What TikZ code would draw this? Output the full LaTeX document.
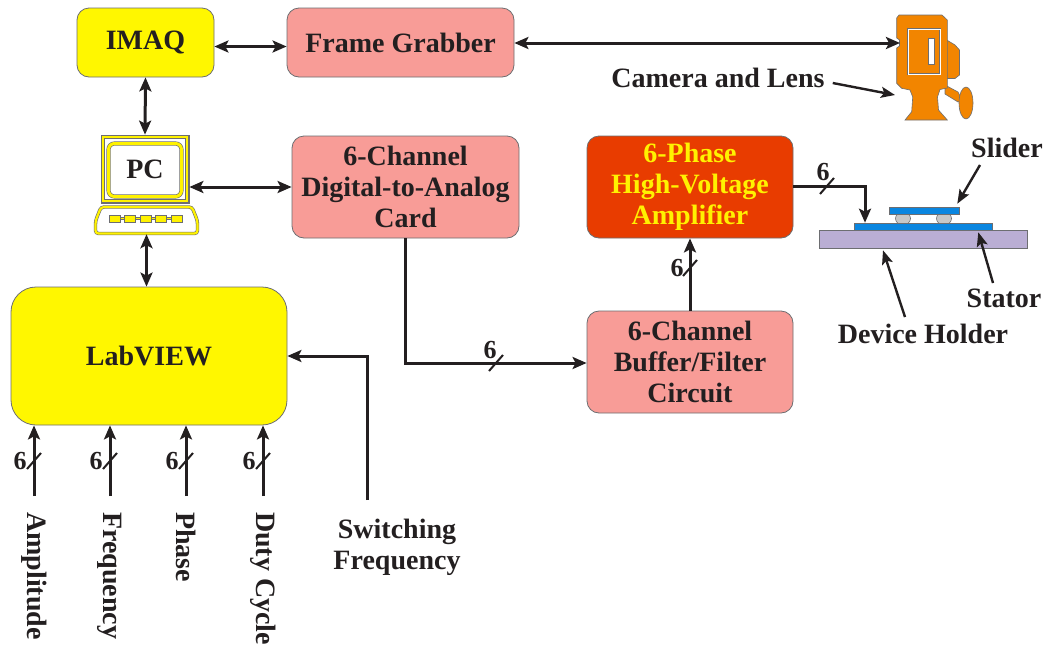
\documentclass[tikz,border=0pt]{standalone}
\usepackage{fontspec}
\setmainfont{Liberation Serif}
\usetikzlibrary{arrows.meta}

\definecolor{ink}{HTML}{231F20}
\definecolor{boxyellow}{HTML}{FFF700}
\definecolor{boxpink}{HTML}{F89C97}
\definecolor{ampred}{HTML}{E83C00}
\definecolor{amptext}{HTML}{FFF200}
\definecolor{camorange}{HTML}{F28500}
\definecolor{edge}{HTML}{6D6E71}
\definecolor{holder}{HTML}{BAAED4}
\definecolor{statorblue}{HTML}{0A86E0}
\definecolor{ballgray}{HTML}{C8C8C8}
\definecolor{pcyellow}{HTML}{FFF200}

\tikzset{busslash/.pic={\draw[draw=ink, line width=2pt] (-7,8) -- (7,-8);}}

\begin{document}
\begin{tikzpicture}[x=1pt,y=-1pt,
  lbl/.style={font=\fontsize{28}{31}\selectfont\bfseries, text=ink, align=center, inner sep=0pt},
  blk/.style={lbl, draw=edge, line width=0.8pt, rounded corners=12pt},
  yblk/.style={blk, fill=boxyellow},
  pblk/.style={blk, fill=boxpink},
  wire/.style={draw=ink, line width=3pt},
  arr/.style={wire, -{Stealth[length=14pt,width=12pt,inset=3pt]}},
  darr/.style={wire, {Stealth[length=14pt,width=12pt,inset=3pt]}-{Stealth[length=14pt,width=12pt,inset=3pt]}},
  larr/.style={draw=ink, line width=2.4pt, -{Stealth[length=14pt,width=11pt,inset=3pt]}},
  busnum/.style={font=\fontsize{26}{28}\selectfont\bfseries, text=ink, inner sep=0pt},
  vlbl/.style={lbl, rotate=-90, anchor=west},
  outline/.style={draw=edge, line width=0.6pt},
]
% canvas
\fill[white] (0,0) rectangle (1047,646);
\path[use as bounding box] (0,0) rectangle (1047,646);

% ---------- main blocks ----------
\node[yblk, minimum width=137pt, minimum height=69pt] (imaq) at (145.5,42.5) {IMAQ};
\node[pblk, minimum width=227pt, minimum height=69pt] (fg) at (400.5,42.5) {Frame Grabber};
\node[pblk, minimum width=227pt, minimum height=102pt] (dac) at (405.5,187) {6-Channel\\Digital-to-Analog\\Card};
\node[blk, fill=ampred, text=amptext, minimum width=206pt, minimum height=102pt] (hva) at (690,187) {6-Phase\\High-Voltage\\Amplifier};
\node[pblk, minimum width=206pt, minimum height=102pt] (buf) at (690,362) {6-Channel\\Buffer/Filter\\Circuit};
\node[yblk, rounded corners=25pt, minimum width=276pt, minimum height=138pt] (lab) at (149,356) {LabVIEW};

% ---------- PC icon ----------
\node[draw=edge, fill=white, line width=0.7pt, minimum width=88pt, minimum height=68pt,
      inner sep=0pt, lbl] (pc) at (145,169) {PC};
\draw[outline, double=pcyellow, double distance=2.2pt] (103,137) rectangle (187,201);
\draw[outline, double=pcyellow, double distance=3pt, rounded corners=6pt] (108.5,143.5) rectangle (181.5,196.5);
\node[minimum width=103pt, minimum height=27pt, inner sep=0pt] (kb) at (146.5,220.5) {};
\filldraw[outline, fill=white, double=pcyellow, double distance=2.2pt, rounded corners=3pt]
  (101,207) -- (192,207) -- (197.5,221) -- (197.5,233.5) -- (95.5,233.5) -- (95.5,221) -- cycle;
\draw[draw=edge, double=pcyellow, double distance=1.4pt, line width=0.5pt] (110,218.5) -- (182,218.5);
\foreach \kx in {114.5,130,145.5,161,176.5}
  \filldraw[draw=edge, fill=pcyellow, line width=0.6pt] (\kx-5.5,215) rectangle (\kx+5.5,222);

% ---------- camera ----------
\begin{scope}[outline]
  \filldraw[fill=camorange] (945,39) -- (955,45) -- (959.5,50) -- (959.5,75) -- (955,78.5) -- (945,78.5) -- cycle;
  \filldraw[fill=camorange] (945,85) -- (958,92) -- (962,100) -- (958,102) -- (945,94) -- cycle;
  \filldraw[fill=camorange] (966,103) ellipse [x radius=7, y radius=16];
  \filldraw[fill=camorange] (899,15) -- (942,15) -- (947.3,20) -- (947.3,88) -- (940,89.5)
    -- (937.5,97) -- (938.5,110) -- (947.3,120) -- (905,120) -- (911.7,111.7) -- (912.7,97)
    -- (910,90) -- (901.7,88.3) -- (896.7,83.3) -- (896.7,48) -- (899.5,46) -- (899.5,40)
    -- (896.7,38) -- (896.7,18) -- cycle;
  \draw[double=white, double distance=1pt] (908,29) rectangle (940,74);
  \filldraw[fill=white] (928,38) rectangle (934,64);
\end{scope}
\coordinate (camin) at (900,43);
\coordinate (camlens) at (895,95);
\node[lbl] (camlbl) at (718,78) {Camera and Lens};

% ---------- slider assembly ----------
\filldraw[outline, fill=ballgray] (903,218.5) ellipse [x radius=7.5, y radius=6.5];
\filldraw[outline, fill=ballgray] (944,218.5) ellipse [x radius=7.5, y radius=6.5];
\node[draw=edge, fill=holder, line width=0.6pt, minimum width=208pt, minimum height=18pt, inner sep=0pt] (holder) at (923,239) {};
\node[draw=edge, fill=statorblue, line width=0.6pt, minimum width=138pt, minimum height=7pt, inner sep=0pt] (stator) at (923,226.5) {};
\node[draw=edge, fill=statorblue, line width=0.6pt, minimum width=70pt, minimum height=7pt, inner sep=0pt] (slider) at (924,210.5) {};
\node[lbl] (sliderlbl) at (1007,148) {Slider};
\node[lbl] (statorlbl) at (1004,298) {Stator};
\node[lbl] (holderlbl) at (923,334) {Device Holder};
\coordinate (sliderfrom) at (980,165);
\coordinate (statorfrom) at (993,283);
\coordinate (holderfrom) at (905,317);
\draw[larr] (sliderfrom) -- ([xshift=-2pt,yshift=3pt]slider.north east);
\draw[larr] (statorfrom) -- ([xshift=-14pt,yshift=-2pt]stator.south east);
\draw[larr] (holderfrom) -- ([xshift=-40pt,yshift=-2pt]holder.south);
\draw[larr] (camlbl.east) ++(8,5) -- (camlens);

% ---------- connectors ----------
\draw[darr] ([yshift=-4pt]imaq.east) -- ([yshift=-4pt]fg.west);
\draw[darr] (fg.east |- camin) -- (camin);
\draw[darr] (imaq.south) -- (pc.north);
\draw[darr] (kb.south) -- (kb.south |- lab.north);
\draw[darr] (pc.east |- dac.west) -- (dac.west);
\draw[arr] (dac.south) |- ([yshift=-1pt]buf.west);
\pic at (496,363) {busslash};
\node[busnum] at (490,350) {6};
\draw[arr] (buf.north) -- (hva.south);
\pic at (690,268) {busslash};
\node[busnum] at (677,268) {6};
\draw[arr] ([yshift=1pt]hva.east) -| ([xshift=-58pt]stator.north);
\pic at (827,186) {busslash};
\node[busnum] at (823,172) {6};

% LabVIEW inputs
\foreach \ix/\name in {34/Amplitude,110/Frequency,186/Phase,263/Duty Cycle}{
  \coordinate (in) at (\ix,496);
  \draw[arr] (in) -- (in |- lab.south);
  \pic at (\ix,461) {busslash};
  \node[busnum] at (\ix-14,461) {6};
  \node[vlbl] at (\ix,512) {\name};
}
\coordinate (swin) at (367,500);
\draw[arr] (swin) |- (lab.east);
\node[lbl] (swlbl) at (397,547) {Switching\\Frequency};
\end{tikzpicture}
\end{document}
